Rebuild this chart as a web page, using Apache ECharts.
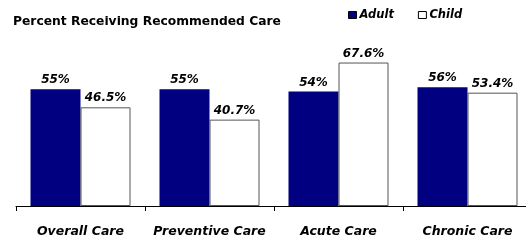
<!DOCTYPE html>
<html style="height: 100%">
<head>
  <meta charset="utf-8">
  <title>Percent Receiving Recommended Care</title>
</head>
<body style="height: 100%; margin: 0; background: #fff; overflow: hidden">
<!-- the last category runs a few pixels past the right edge, as in the original -->
<div id="container" style="width: 532px; height: 242px"></div>
<script src="https://cdn.jsdelivr.net/npm/echarts@6/dist/echarts.min.js"></script>
<script>
  var categories = ['Overall Care', 'Preventive Care', 'Acute Care', 'Chronic Care'];
  var adult = [55, 55, 54, 56];
  var child = [46.5, 40.7, 67.6, 53.4];
  var adultLabels = ['55%', '55%', '54%', '56%'];

  var font = 'DejaVu Sans';
  var myChart = echarts.init(document.getElementById('container'));

  var option = {
    animation: false,
    title: {
      text: 'Percent Receiving Recommended Care',
      left: 13,
      top: 16,
      padding: 0,
      textStyle: { fontFamily: font, fontSize: 12.3, fontWeight: 'bold', color: '#000' }
    },
    legend: {
      left: 348,
      top: 9,
      padding: 0,
      itemWidth: 8,
      itemHeight: 7,
      itemGap: 24,
      textStyle: { fontFamily: font, fontSize: 11.5, fontWeight: 'bold', fontStyle: 'italic', color: '#000', padding: [0, 0, 0, -2] },
      data: [
        { name: 'Adult', icon: 'rect', itemStyle: { color: '#000080', borderColor: '#000', borderWidth: 1 } },
        { name: 'Child', icon: 'rect', itemStyle: { color: '#fff', borderColor: '#000', borderWidth: 1 } }
      ]
    },
    grid: { left: 16, right: 0, top: 15, bottom: 36, containLabel: false },
    xAxis: {
      type: 'category',
      data: categories,
      axisLine: { lineStyle: { color: '#000', width: 1 } },
      axisTick: { show: true, interval: 0, length: 5, lineStyle: { color: '#000' } },
      axisLabel: { interval: 0, margin: 19, fontFamily: font, fontSize: 12.5, fontWeight: 'bold', fontStyle: 'italic', color: '#000' }
    },
    yAxis: {
      type: 'value',
      min: 0,
      max: 90,
      show: false,
      splitLine: { show: false }
    },
    series: [
      {
        name: 'Adult',
        type: 'bar',
        data: adult,
        barWidth: 50,
        barGap: '0%',
        itemStyle: { color: '#000080' },
        label: {
          show: true,
          position: 'top',
          distance: 3,
          formatter: function (p) { return adultLabels[p.dataIndex]; },
          fontFamily: font, fontSize: 12, fontWeight: 'bold', fontStyle: 'italic', color: '#000'
        }
      },
      {
        name: 'Child',
        type: 'bar',
        data: child,
        barWidth: 50,
        itemStyle: { color: '#fff', borderColor: '#555', borderWidth: 1 },
        label: {
          show: true,
          position: 'top',
          distance: 3,
          formatter: '{c}%',
          fontFamily: font, fontSize: 12, fontWeight: 'bold', fontStyle: 'italic', color: '#000'
        }
      }
    ]
  };

  myChart.setOption(option);
</script>
</body>
</html>
